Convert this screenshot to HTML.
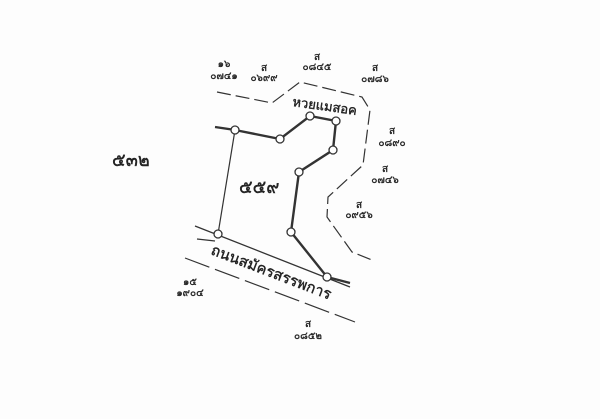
<!DOCTYPE html>
<html><head><meta charset="utf-8"><style>
html,body{margin:0;padding:0;background:#fff;}
svg{display:block}
text{font-family:"Liberation Sans","Noto Sans CJK SC",sans-serif;fill:#222;}
</style></head><body>
<svg width="600" height="419" viewBox="0 0 600 419">
<rect width="600" height="419" fill="#fdfdfd"/>
<g stroke="#333" fill="none" stroke-width="1.2">
<path d="M217,92 L272,103 L300,82 L362,97 L370,110 L363,165 L328,197 L327,217 L352,252 L372,260" stroke-dasharray="14,5"/>
<line x1="195" y1="226" x2="350" y2="287" stroke-width="1.3"/>
<line x1="185" y1="258" x2="355" y2="322" stroke-dasharray="26,6"/>
<line x1="197" y1="239" x2="215" y2="241"/>
<path d="M215,127 L235,130 L280,139 L310,116 L336,121 L333,150 L299,172 L291,232 L327,277 L350,283" stroke-width="2.4"/>
<path d="M235,130 L218,234"/>
</g>
<g fill="#fff" stroke="#333" stroke-width="1.3">
<circle cx="235" cy="130" r="4"/><circle cx="280" cy="139" r="4"/><circle cx="310" cy="116" r="4"/>
<circle cx="336" cy="121" r="4"/><circle cx="333" cy="150" r="4"/><circle cx="299" cy="172" r="4"/>
<circle cx="291" cy="232" r="4"/><circle cx="327" cy="277" r="4"/><circle cx="218" cy="234" r="4"/>
</g>
<g font-size="10" text-anchor="middle" stroke="#222" stroke-width="0.3">
<text x="224" y="67">๑๖</text><text x="224" y="79">๐๗๔๑</text>
<text x="264" y="71">ส</text><text x="264" y="81">๐๖๙๙</text>
<text x="317" y="60">ส</text><text x="317" y="70">๐๘๔๕</text>
<text x="375" y="71">ส</text><text x="375" y="82">๐๗๘๖</text>
<text x="392" y="134">ส</text><text x="392" y="146">๐๘๙๐</text>
<text x="385" y="172">ส</text><text x="385" y="183">๐๗๔๖</text>
<text x="359" y="208">ส</text><text x="359" y="218">๐๙๕๖</text>
<text x="190" y="285">๑๕</text><text x="190" y="296">๑๙๐๔</text>
<text x="308" y="327">ส</text><text x="308" y="339">๐๘๕๒</text>
</g>
<g stroke="#222" stroke-width="0.4">
<text x="292" y="106" font-size="13" transform="rotate(8 292 106)">หวยแมสอค</text>
<text x="210" y="254" font-size="15" transform="rotate(21 210 254)">ถนนสมัครสรรพการ</text>
<text x="112" y="166" font-size="18">๕๓๒</text>
<text x="239" y="193" font-size="18">๕๕๙</text>
</g>
</svg>
</body></html>
